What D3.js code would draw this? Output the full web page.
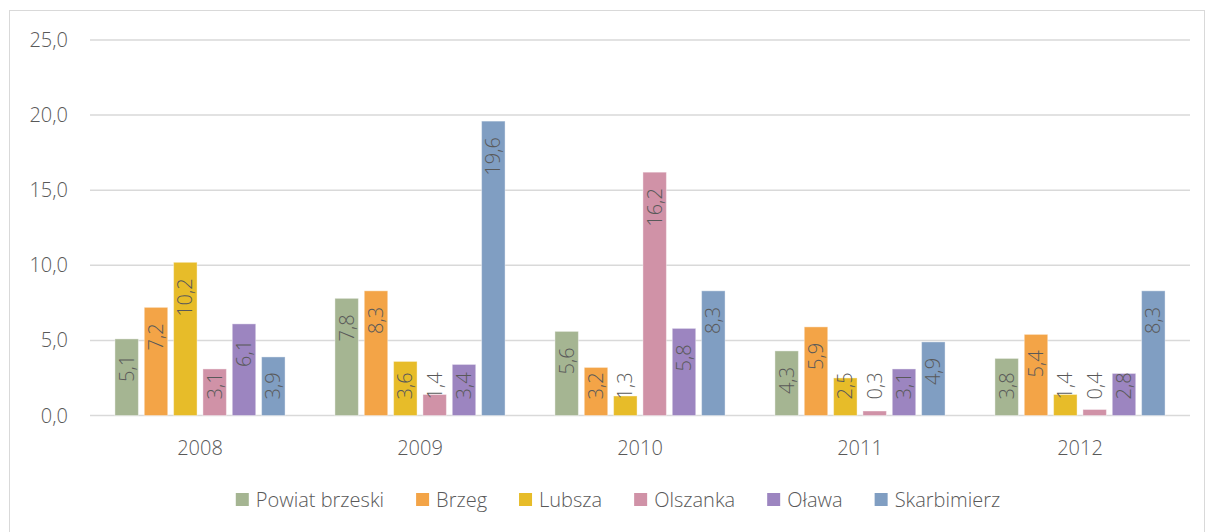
<!DOCTYPE html>
<html>
<head>
<meta charset="utf-8">
<script src="https://cdn.jsdelivr.net/npm/d3@7"></script>
<style>
	body { margin: 0; background: #fff; }
	text { font-family: "Open Sans", sans-serif; font-weight: 300; fill: #595959; }
</style>
</head>
<body>
<svg id="chart" width="1208" height="532"></svg>
<script>
"use strict"

var years = ["2008", "2009", "2010", "2011", "2012"];
var seriesNames = ["Powiat brzeski", "Brzeg", "Lubsza", "Olszanka", "Oława", "Skarbimierz"];
var seriesColors = ["#a5b592", "#f3a447", "#e7bc29", "#d092a7", "#9c85c0", "#809ec2"];
var powiatBrzeski = [5.1, 7.8, 5.6, 4.3, 3.8];
var brzeg = [7.2, 8.3, 3.2, 5.9, 5.4];
var lubsza = [10.2, 3.6, 1.3, 2.5, 1.4];
var olszanka = [3.1, 1.4, 16.2, 0.3, 0.4];
var olawa = [6.1, 3.4, 5.8, 3.1, 2.8];
var skarbimierz = [3.9, 19.6, 8.3, 4.9, 8.3];
var yTicks = [0, 5, 10, 15, 20, 25];

var seriesValues = [powiatBrzeski, brzeg, lubsza, olszanka, olawa, skarbimierz];

var svg = d3.select("#chart");
var fmt = function(v) { return d3.format(".1f")(v).replace(".", ","); };
var fontSize = 20;

// outer chart frame
svg.append("rect")
	.attr("x", 9.5).attr("y", 10.5)
	.attr("width", 1195).attr("height", 540)
	.attr("fill", "none")
	.attr("stroke", "#d9d9d9")
	.attr("stroke-width", 1);

var plotLeft = 90, plotRight = 1190, plotTop = 40, plotBottom = 415.5;

var x0 = d3.scaleBand().domain(years).range([plotLeft, plotRight]).padding(0);
var x1 = d3.scaleBand().domain(seriesNames).range([0, x0.bandwidth()])
	.paddingInner(0.2).paddingOuter(0.85);
var y = d3.scaleLinear().domain([0, 25]).range([plotBottom, plotTop]);

// gridlines
svg.append("g")
	.selectAll("line")
	.data(yTicks)
	.join("line")
	.attr("x1", plotLeft).attr("x2", plotRight)
	.attr("y1", function(d) { return y(d); })
	.attr("y2", function(d) { return y(d); })
	.attr("stroke", "#d9d9d9")
	.attr("stroke-width", 1.5);

// y tick labels
svg.append("g")
	.selectAll("text")
	.data(yTicks)
	.join("text")
	.attr("x", 68)
	.attr("y", function(d) { return y(d); })
	.attr("dy", "0.35em")
	.attr("text-anchor", "end")
	.attr("font-size", fontSize)
	.text(fmt);

// x category labels
svg.append("g")
	.selectAll("text")
	.data(years)
	.join("text")
	.attr("x", function(d) { return x0(d) + x0.bandwidth() / 2; })
	.attr("y", 448)
	.attr("dy", "0.35em")
	.attr("text-anchor", "middle")
	.attr("font-size", fontSize)
	.text(function(d) { return d; });

// bars
var cells = [];
seriesNames.forEach(function(name, si) {
	years.forEach(function(yr, yi) {
		cells.push({ series: name, si: si, year: yr, value: seriesValues[si][yi] });
	});
});

var gBars = svg.append("g");
gBars.selectAll("rect")
	.data(cells)
	.join("rect")
	.attr("x", function(d) { return x0(d.year) + x1(d.series); })
	.attr("y", function(d) { return y(d.value); })
	.attr("width", x1.bandwidth())
	.attr("height", function(d) { return plotBottom - y(d.value); })
	.attr("fill", function(d) { return seriesColors[d.si]; })
	.attr("stroke", "#ffffff")
	.attr("stroke-opacity", 0.4)
	.attr("stroke-width", 1);

// data labels, rotated, inside end (pushed up from the axis when the bar is short)
var labels = svg.append("g")
	.selectAll("text")
	.data(cells)
	.join("text")
	.attr("font-size", fontSize)
	.attr("text-anchor", "start")
	.text(function(d) { return fmt(d.value); });

labels.each(function(d) {
	var len = this.getComputedTextLength();
	var cx = x0(d.year) + x1(d.series) + x1.bandwidth() / 2;
	var startY = y(d.value) + 16 + len;
	if (startY > plotBottom - 16) startY = plotBottom - 16;
	d3.select(this)
		.attr("transform", "translate(" + (cx + 7) + "," + startY + ") rotate(-90)");
});

// legend
var legend = svg.append("g");
var lx = 0, gap = 32;
seriesNames.forEach(function(name, i) {
	var item = legend.append("g").attr("transform", "translate(" + lx + ",0)");
	item.append("rect")
		.attr("x", 0).attr("y", -7)
		.attr("width", 13).attr("height", 13)
		.attr("fill", seriesColors[i]);
	var t = item.append("text")
		.attr("x", 20).attr("y", 0)
		.attr("dy", "0.35em")
		.attr("font-size", fontSize)
		.text(name);
	lx += 20 + t.node().getComputedTextLength() + gap;
});
lx -= gap;
legend.attr("transform", "translate(" + (618 - lx / 2) + ",500)");
</script>
</body>
</html>
